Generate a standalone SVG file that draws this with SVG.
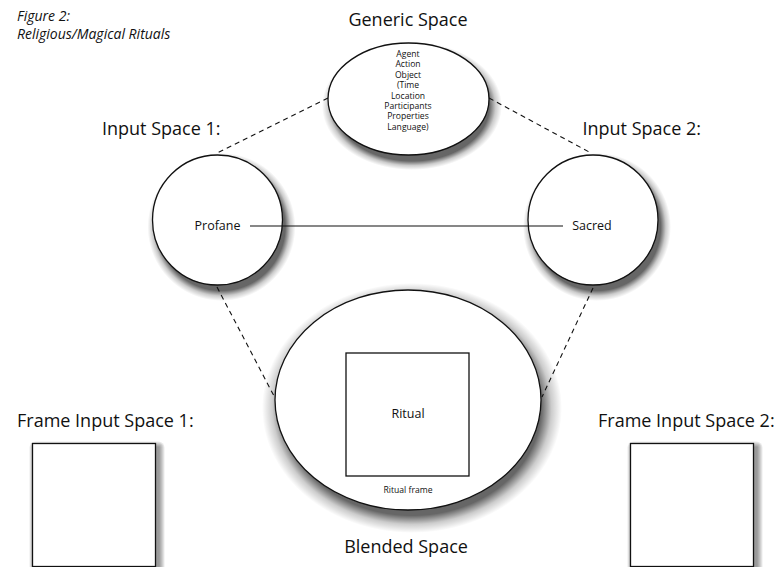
<svg xmlns="http://www.w3.org/2000/svg" width="779" height="567" viewBox="0 0 779 567">
<defs>
<radialGradient id="rg" cx="0.5" cy="0.5" r="0.5">
<stop offset="0.86" stop-color="#000" stop-opacity="0.6"/>
<stop offset="0.93" stop-color="#000" stop-opacity="0.2"/>
<stop offset="1" stop-color="#000" stop-opacity="0"/>
</radialGradient>
</defs>
<style>
text{font-family:"Open Sans","Noto Sans",sans-serif;fill:#111}
.t{font-size:18px}
.m{font-size:12.5px}
.s{font-size:8.6px}
.shape{fill:#fff;stroke:#111;stroke-width:1.3}
.sh{fill:url(#rg)}
.rs{fill:#000;fill-opacity:0.08}
.dash{stroke:#111;stroke-width:1.1;stroke-dasharray:5,4;fill:none}
.solid{stroke:#111;stroke-width:1.1;fill:none}
</style>
<rect width="779" height="567" fill="#fff"/>
<g id="caption">
<text x="17" y="21" font-size="14" font-style="italic">Figure 2:</text>
<text x="17" y="38.5" font-size="14" font-style="italic">Religious/Magical Rituals</text>
</g>
<g id="generic">
<text class="t" x="408" y="26" text-anchor="middle">Generic Space</text>
<ellipse class="sh" cx="412" cy="106" rx="90" ry="64"/>
<ellipse class="shape" cx="408.5" cy="99" rx="80.5" ry="56"/>
<text class="s" x="408" y="57" text-anchor="middle">Agent</text>
<text class="s" x="408" y="67.4" text-anchor="middle">Action</text>
<text class="s" x="408" y="77.8" text-anchor="middle">Object</text>
<text class="s" x="408" y="88.2" text-anchor="middle">(Time</text>
<text class="s" x="408" y="98.6" text-anchor="middle">Location</text>
<text class="s" x="408" y="109" text-anchor="middle">Participants</text>
<text class="s" x="408" y="119.4" text-anchor="middle">Properties</text>
<text class="s" x="408" y="129.8" text-anchor="middle">Language)</text>
</g>
<g id="input1">
<text class="t" x="102" y="135">Input Space 1:</text>
<circle class="sh" cx="221.5" cy="227" r="74"/>
<circle class="shape" cx="217.5" cy="220" r="65"/>
<text class="m" x="217.5" y="230" text-anchor="middle">Profane</text>
</g>
<g id="input2">
<text class="t" x="582.5" y="135">Input Space 2:</text>
<circle class="sh" cx="597" cy="227" r="74"/>
<circle class="shape" cx="593" cy="220" r="65"/>
<text class="m" x="592" y="230" text-anchor="middle">Sacred</text>
</g>
<g id="blended">
<ellipse class="sh" cx="412" cy="408" rx="150" ry="125"/>
<ellipse class="shape" cx="408" cy="400" rx="133" ry="110"/>
<rect x="346" y="353" width="123" height="123" fill="#fff" stroke="#111" stroke-width="1.3"/>
<text class="m" x="408" y="418" text-anchor="middle">Ritual</text>
<text class="s" x="408" y="493" text-anchor="middle">Ritual frame</text>
<text class="t" x="406" y="553" text-anchor="middle">Blended Space</text>
</g>
<g id="frame1">
<text class="t" x="17" y="427">Frame Input Space 1:</text>
<rect class="rs" x="34.5" y="446.5" width="125" height="125" rx="1"/>
<rect class="rs" x="33.5" y="445.5" width="127" height="127" rx="2"/>
<rect class="rs" x="32.5" y="444.5" width="129" height="129" rx="3"/>
<rect class="rs" x="31.5" y="443.5" width="131" height="131" rx="4"/>
<rect class="rs" x="30.5" y="442.5" width="133" height="133" rx="5"/>
<rect class="rs" x="29.5" y="441.5" width="135" height="135" rx="6"/>
<rect class="shape" x="32.5" y="443.5" width="123" height="123"/>
</g>
<g id="frame2">
<text class="t" x="598" y="427">Frame Input Space 2:</text>
<rect class="rs" x="632.5" y="446.5" width="125" height="125" rx="1"/>
<rect class="rs" x="631.5" y="445.5" width="127" height="127" rx="2"/>
<rect class="rs" x="630.5" y="444.5" width="129" height="129" rx="3"/>
<rect class="rs" x="629.5" y="443.5" width="131" height="131" rx="4"/>
<rect class="rs" x="628.5" y="442.5" width="133" height="133" rx="5"/>
<rect class="rs" x="627.5" y="441.5" width="135" height="135" rx="6"/>
<rect class="shape" x="630.5" y="443.5" width="123" height="123"/>
</g>
<g id="connectors">
<line class="dash" x1="328" y1="98" x2="217" y2="153"/>
<line class="dash" x1="489" y1="98" x2="591" y2="153"/>
<line class="dash" x1="217" y1="287" x2="274" y2="396"/>
<line class="dash" x1="593" y1="288" x2="542" y2="397"/>
<line class="solid" x1="250" y1="226" x2="563" y2="226"/>
</g>
</svg>
